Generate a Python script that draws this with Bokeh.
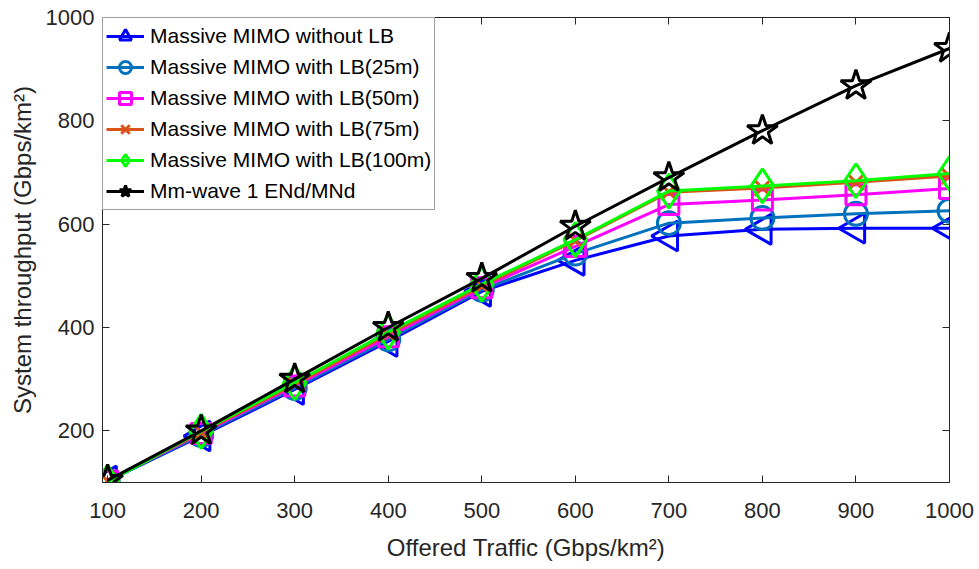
import math
from bokeh.plotting import figure
from bokeh.models import Range1d, FixedTicker, LinearAxis, Legend, LegendItem
from bokeh.embed import file_html
from bokeh.resources import INLINE

traffic = [100, 200, 300, 400, 500, 600, 700, 800, 900, 1000]
no_lb = [103, 190, 280, 373, 470, 530, 577, 590, 592, 592]
lb_25m = [103, 192, 283, 377, 473, 543, 602, 612, 620, 626]
lb_50m = [103, 195, 287, 382, 477, 557, 638, 647, 657, 669]
lb_75m = [103, 197, 290, 387, 480, 568, 662, 670, 681, 693]
lb_100m = [101, 199, 293, 391, 484, 570, 664, 674, 684, 698]
mmwave = [104, 200, 300, 400, 495, 596, 690, 781, 868, 940]

x_ticks = [100, 200, 300, 400, 500, 600, 700, 800, 900, 1000]
y_ticks = [200, 400, 600, 800, 1000]

labels = ["Massive MIMO without LB", "Massive MIMO with LB(25m)", "Massive MIMO with LB(50m)",
          "Massive MIMO with LB(75m)", "Massive MIMO with LB(100m)", "Mm-wave 1 ENd/MNd"]

FONT = "Liberation Sans"
TXT = "#262626"

p = figure(width=979, height=569, output_backend="svg", toolbar_location=None,
           x_range=Range1d(94.5, 1000), y_range=Range1d(100, 1000),
           min_border_left=102, min_border_right=30, min_border_top=17, min_border_bottom=87)
p.grid.visible = False
p.outline_line_color = TXT
p.background_fill_color = "white"
p.border_fill_color = "white"

for ax, ticks in ((p.xaxis[0], x_ticks), (p.yaxis[0], y_ticks)):
    ax.ticker = FixedTicker(ticks=ticks)
    ax.major_tick_in = 7
    ax.major_tick_out = 0
    ax.minor_tick_line_color = None
    ax.axis_line_color = TXT
    ax.major_tick_line_color = TXT
    ax.major_label_text_font = FONT
    ax.major_label_text_font_size = "22px"
    ax.major_label_text_color = TXT
    ax.axis_label_text_font = FONT
    ax.axis_label_text_font_size = "24px"
    ax.axis_label_text_font_style = "normal"
    ax.axis_label_text_color = TXT

p.xaxis.axis_label = "Offered Traffic (Gbps/km²)"
p.yaxis.axis_label = "System throughput (Gbps/km²)"
p.xaxis.major_label_standoff = 20
p.xaxis.axis_label_standoff = 13
p.yaxis.major_label_standoff = 8
p.yaxis.axis_label_standoff = 7

for loc, ticks in (("right", y_ticks), ("above", x_ticks)):
    ax = LinearAxis(ticker=FixedTicker(ticks=ticks), major_tick_in=7, major_tick_out=0,
                    minor_tick_line_color=None, axis_line_color=TXT, major_tick_line_color=TXT,
                    major_label_text_font_size="0px", major_label_text_color=None)
    p.add_layout(ax, loc)

series = [
    (no_lb, "#0000FF", "triangle", 30, math.pi / 2),
    (lb_25m, "#0072BD", "circle", 23, 0),
    (lb_50m, "#FF00FF", "square", 20, 0),
    (lb_75m, "#D95319", "x", 22, 0),
    (lb_100m, "#00FF00", "diamond", 34, 0),
    (mmwave, "#000000", "star", 32, 0),
]

items = []
for (vals, color, marker, size, angle), label in zip(series, labels):
    lr = p.line(traffic, vals, line_color=color, line_width=3)
    sr = p.scatter(traffic, vals, marker=marker, size=size, angle=angle,
                   line_color=color, line_width=3, fill_color=None)
    items.append(LegendItem(label=label, renderers=[lr, sr]))

legend = Legend(items=items, location="top_left")
legend.margin = 0
legend.padding = 3
legend.spacing = 1
legend.glyph_width = 38
legend.glyph_height = 30
legend.label_height = 30
legend.label_standoff = 6
legend.label_text_font = FONT
legend.label_text_font_size = "21px"
legend.label_text_color = "#000000"
legend.border_line_color = "#404040"
legend.border_line_width = 1
legend.background_fill_color = "white"
legend.background_fill_alpha = 1
p.add_layout(legend)

open("out.html", "w").write(file_html(p, INLINE))
